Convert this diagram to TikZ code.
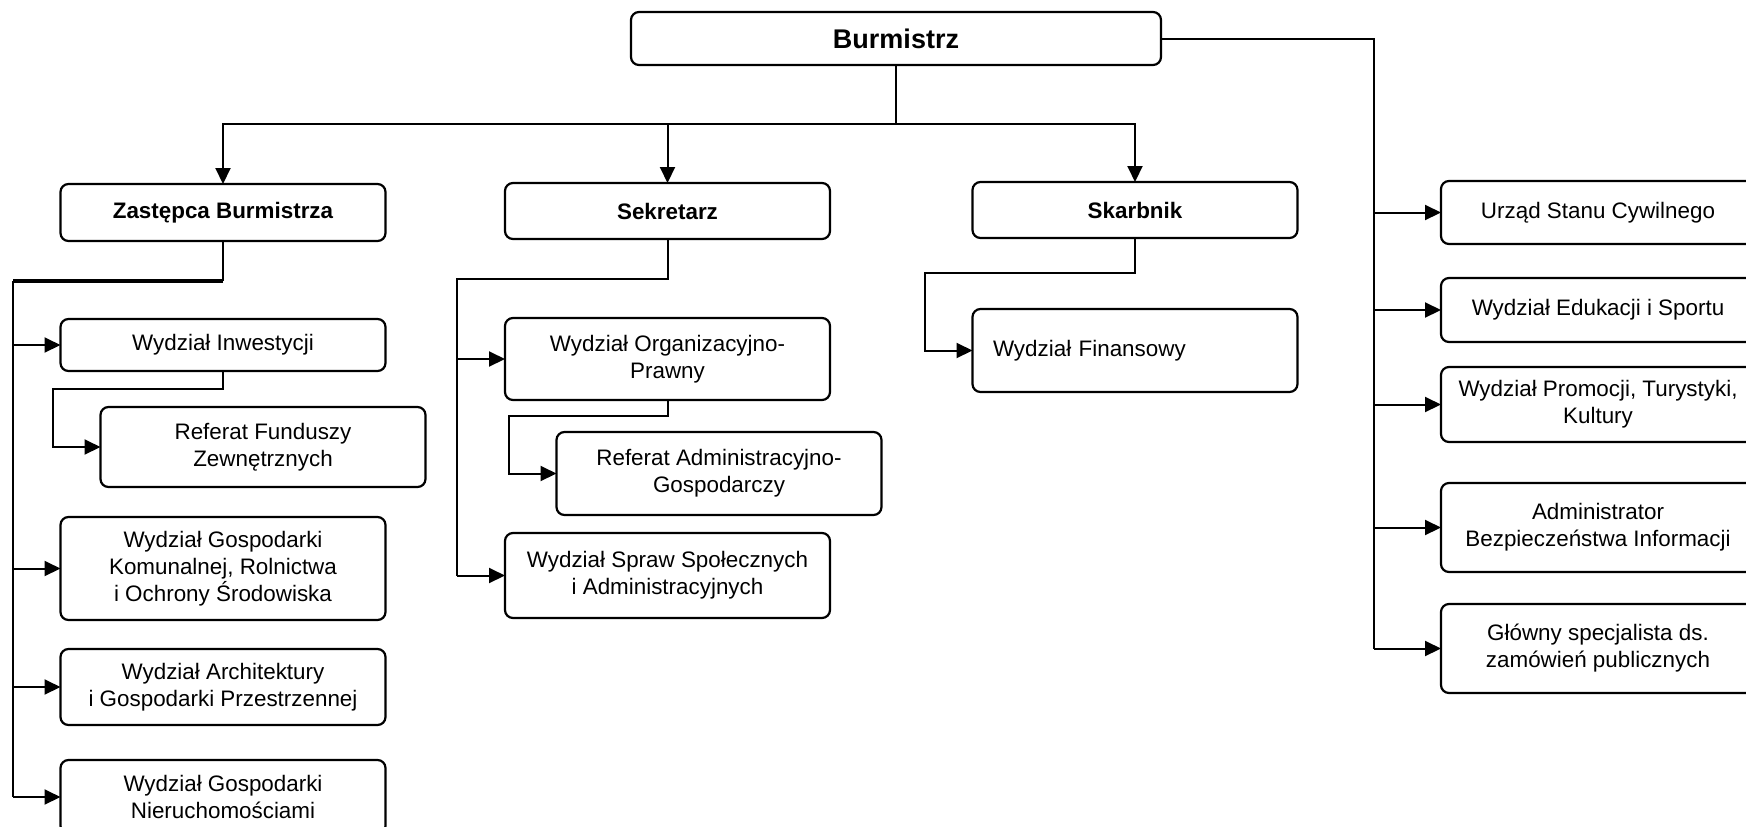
\documentclass[tikz,border=0pt]{standalone}
\usepackage{fontspec}
\setmainfont{Liberation Sans}
\usetikzlibrary{arrows.meta}

\begin{document}
\begin{tikzpicture}[x=0.5pt, y=-0.5pt,
BoxStyle/.style={draw, line width=1.1pt, rounded corners=4pt, minimum width=162.5pt,
                inner xsep=2pt, inner ysep=0pt, outer sep=0pt, align=center,
                font=\fontsize{11.2}{13.5}\selectfont},
HeadStyle/.style={BoxStyle, font=\fontsize{11.2}{13.5}\selectfont\bfseries},
SideStyle/.style={BoxStyle, minimum width=157pt},
LinkStyle/.style={line width=1pt},
ArrStyle/.style={LinkStyle, -{Triangle[length=8pt,width=7.5pt]}},]
\clip (0,0) rectangle (1746,826);
\fill [white] (0,0) rectangle (1746,826);

\node [HeadStyle, minimum width=265pt, minimum height=26.5pt,
       font=\fontsize{13.5}{16}\selectfont\bfseries] (burm) at (896,38.5) {Burmistrz};

\node [HeadStyle, minimum height=28.5pt] (zast) at (223,212.5) {Zastępca Burmistrza};
\node [BoxStyle, minimum height=26pt] (inwest) at (223,345) {Wydział Inwestycji};
\node [BoxStyle, minimum height=40pt] (fund) at (263,447) {Referat Funduszy\\Zewnętrznych};
\node [BoxStyle, minimum height=51.5pt] (wgk) at (223,568.5) {Wydział Gospodarki\\Komunalnej, Rolnictwa\\i Ochrony Środowiska};
\node [BoxStyle, minimum height=38pt] (wa) at (223,687) {Wydział Architektury\\i Gospodarki Przestrzennej};
\node [BoxStyle, minimum height=37pt] (wgn) at (223,797) {Wydział Gospodarki\\Nieruchomościami};

\node [HeadStyle, minimum height=28pt] (sekr) at (667.5,211) {Sekretarz};
\node [BoxStyle, minimum height=41pt] (wop) at (667.5,359) {Wydział Organizacyjno-\\Prawny};
\node [BoxStyle, minimum height=41.5pt] (rag) at (719,473.5) {Referat Administracyjno-\\Gospodarczy};
\node [BoxStyle, minimum height=42.5pt] (wss) at (667.5,575.5) {Wydział Spraw Społecznych\\i Administracyjnych};

\node [HeadStyle, minimum height=28pt] (skarb) at (1135,210) {Skarbnik};
\node [BoxStyle, minimum height=41.5pt, text width=142pt, inner xsep=10pt,
       align=left] (wf) at (1135,350.5) {Wydział Finansowy};

\node [SideStyle, minimum height=31.5pt] (usc) at (1598,212.5) {Urząd Stanu Cywilnego};
\node [SideStyle, minimum height=32pt] (edu) at (1598,310) {Wydział Edukacji i Sportu};
\node [SideStyle, minimum height=37.5pt] (prom) at (1598,404.5) {Wydział Promocji, Turystyki,\\Kultury};
\node [SideStyle, minimum height=44.5pt] (abi) at (1598,527.5) {Administrator\\Bezpieczeństwa Informacji};
\node [SideStyle, minimum height=44.5pt] (zp) at (1598,648.5) {Główny specjalista ds.\\zamówień publicznych};

\coordinate (bus) at (0,124);
\draw [LinkStyle] (burm.south) -- (burm.south |- bus);
\foreach \n in {zast,sekr,skarb}
  \draw [ArrStyle] (burm.south |- bus) -| (\n.north);

\coordinate (rbus) at (1374,0);
\draw [LinkStyle] (burm.east) -| (rbus |- zp.west);
\foreach \n in {usc,edu,prom,abi,zp}
  \draw [ArrStyle] (rbus |- \n.west) -- (\n.west);

\coordinate (lbus) at (13,281);
\draw [LinkStyle] (zast.south) -- (zast.south |- lbus);
\draw [LinkStyle, line width=2pt] (zast.south |- lbus) -- (lbus);
\draw [LinkStyle] (lbus) -- (lbus |- wgn.west);
\foreach \n in {inwest,wgk,wa,wgn}
  \draw [ArrStyle] (lbus |- \n.west) -- (\n.west);
\coordinate (fk) at (53,389);
\draw [ArrStyle] (inwest.south) |- (fk) |- (fund.west);

\coordinate (sbus) at (457,279);
\draw [LinkStyle] (sekr.south) |- (sbus) -- (sbus |- wss.west);
\foreach \n in {wop,wss}
  \draw [ArrStyle] (sbus |- \n.west) -- (\n.west);
\coordinate (rk) at (509,416);
\draw [ArrStyle] (wop.south) |- (rk) |- (rag.west);

\coordinate (sk) at (925,273);
\draw [ArrStyle] (skarb.south) |- (sk) |- (wf.west);
\end{tikzpicture}
\end{document}
